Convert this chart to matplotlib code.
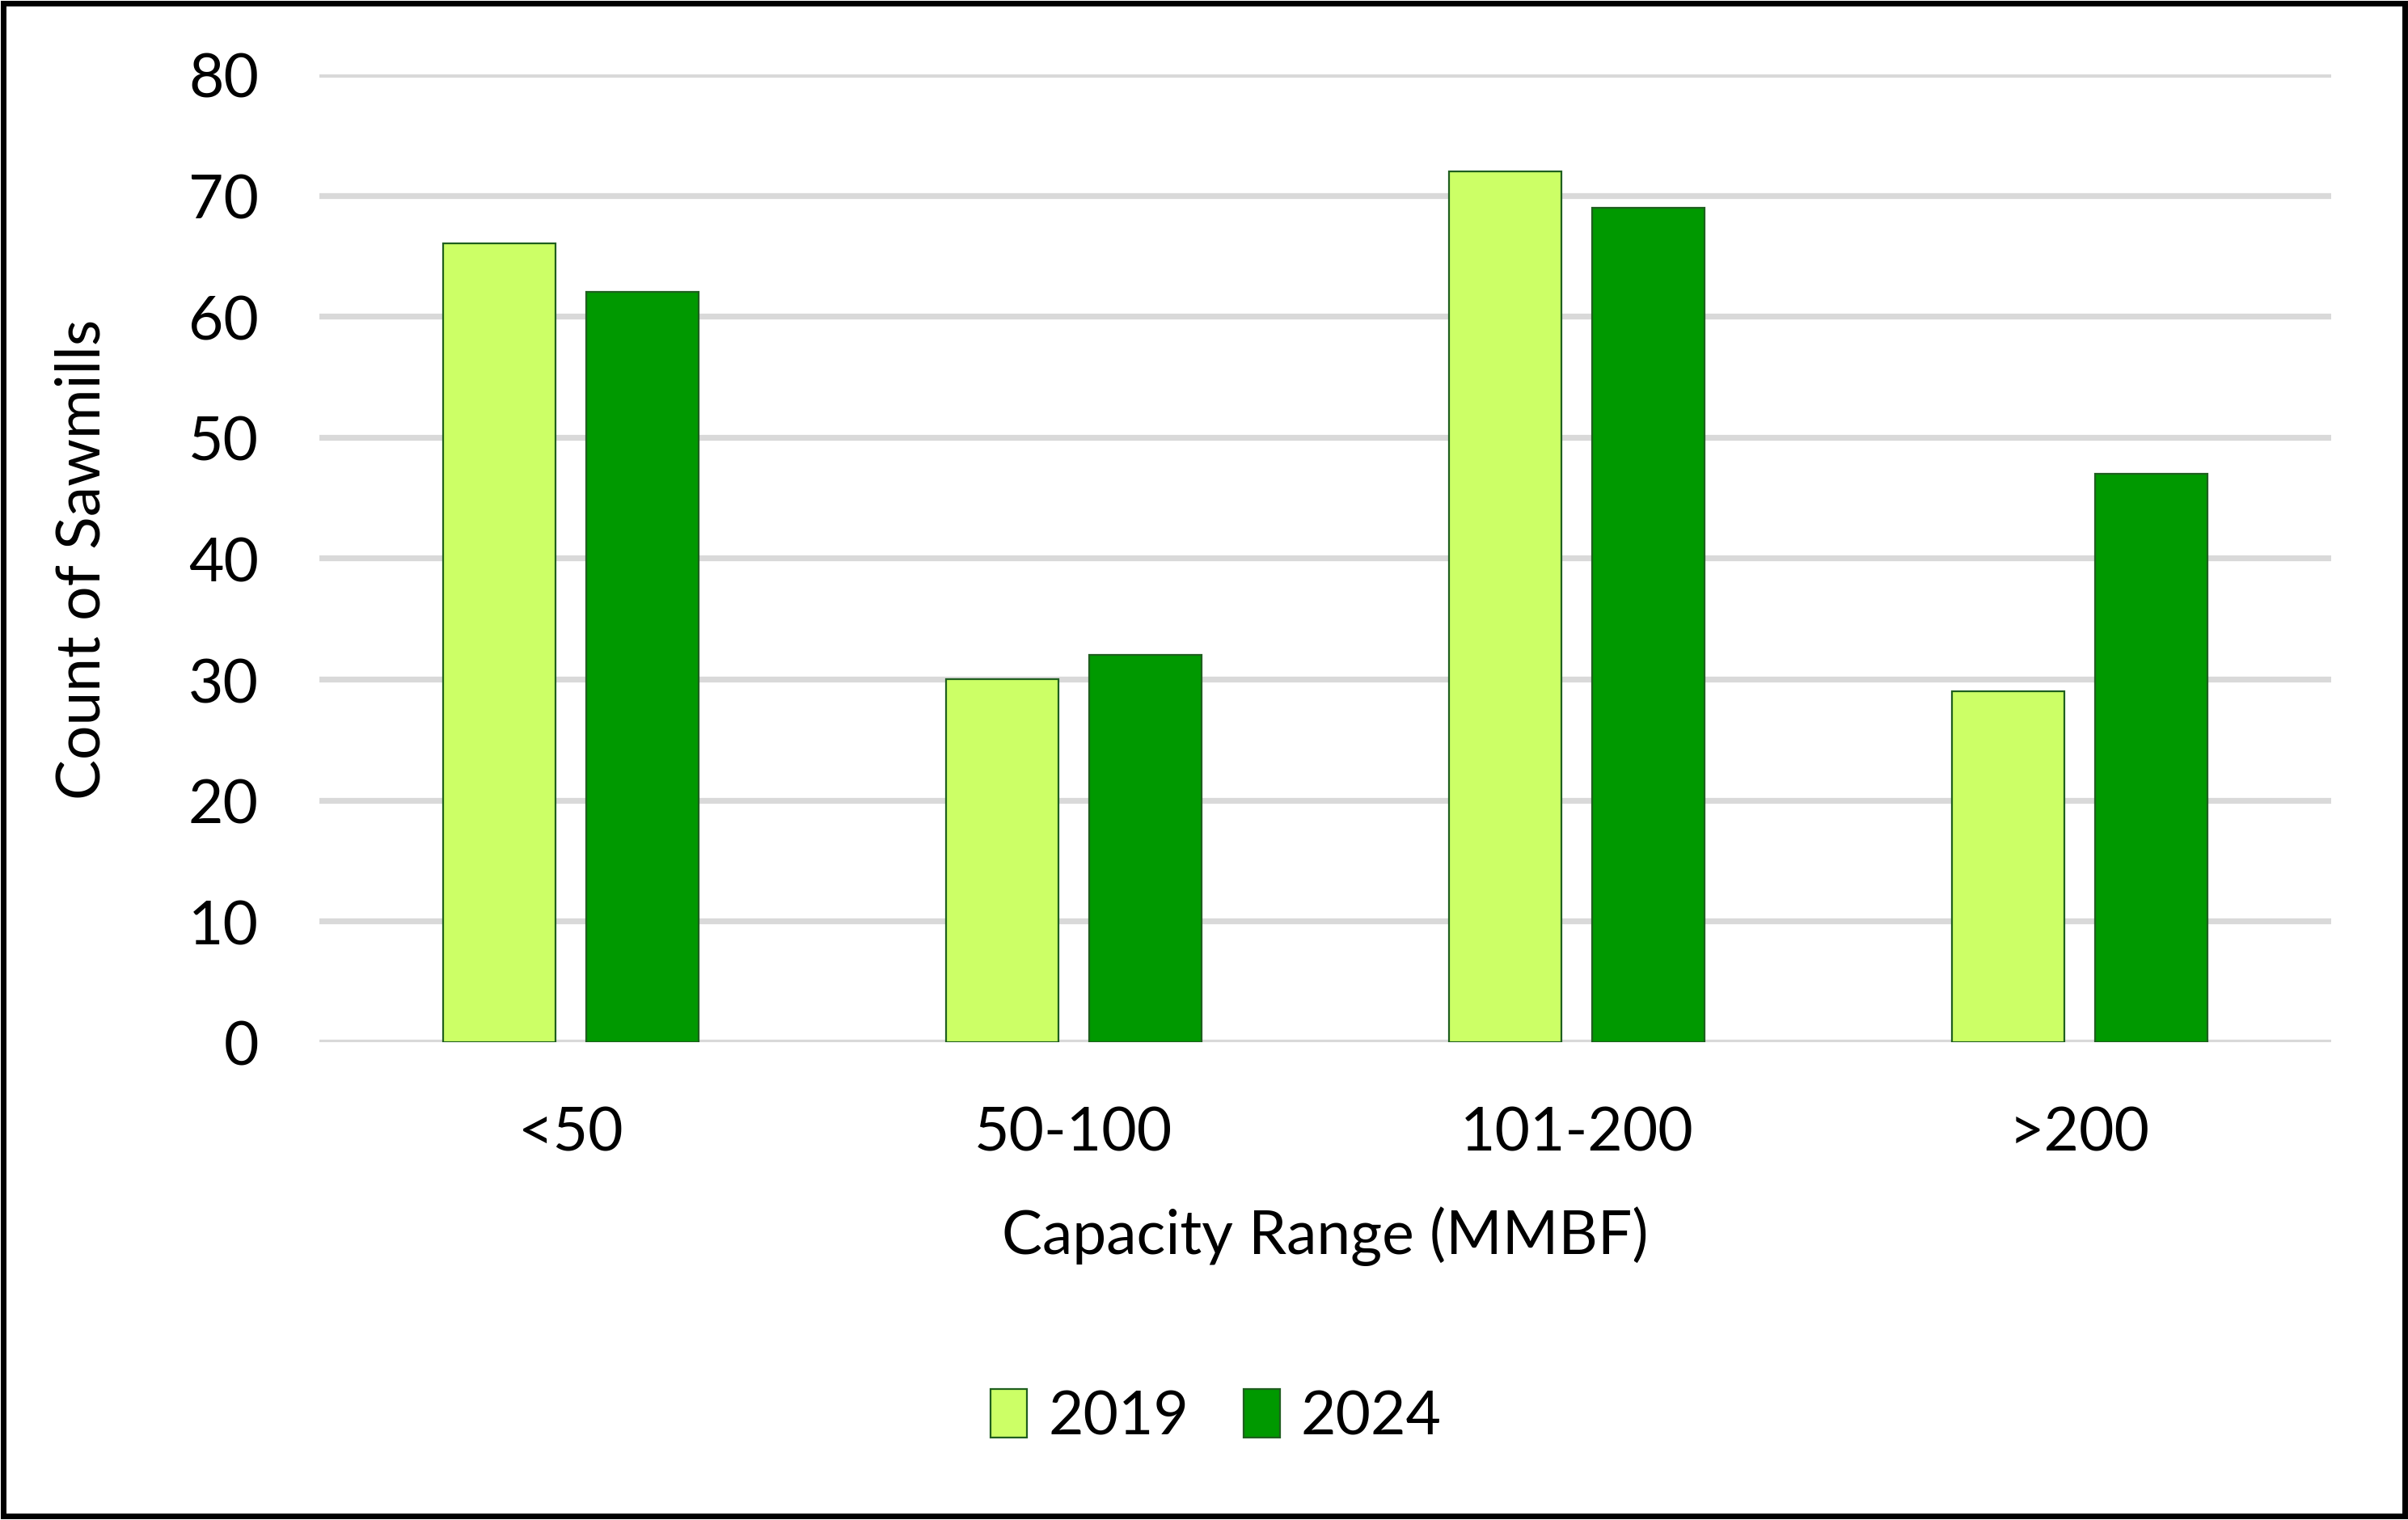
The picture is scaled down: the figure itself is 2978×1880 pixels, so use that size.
import numpy as np
import matplotlib.pyplot as plt
from matplotlib.patches import Rectangle

categories = ['<50', '50-100', '101-200', '>200']
years = ['2019', '2024']
count_2019 = [66, 30, 72, 29]
count_2024 = [62, 32, 69, 47]

colors = ['#ccff66', '#009900']
edge = '#1f5f1f'

plt.rcParams['font.family'] = ['Lato', 'DejaVu Sans']

fig = plt.figure(figsize=(14.89, 9.405), dpi=200)
ax = fig.add_axes([0.1326, 0.3142, 0.8355, 0.6364])

x = np.arange(len(categories))
w = 0.223
off = 0.142
ax.bar(x - off, count_2019, w, color=colors[0], edgecolor=edge, linewidth=0.8,
       label=years[0], zorder=3)
ax.bar(x + off, count_2024, w, color=colors[1], edgecolor=edge, linewidth=0.8,
       label=years[1], zorder=3)

ax.set_xlim(-0.5, 3.5)
ax.set_ylim(0, 80)
ax.set_yticks(np.arange(0, 81, 10))
ax.grid(axis='y', color='#d9d9d9', linewidth=2.6, zorder=0)
ax.set_axisbelow(True)
for s in ax.spines.values():
    s.set_visible(False)

ax.set_xticks(x)
ax.set_xticklabels(categories)
ax.tick_params(axis='both', length=0, labelsize=27)
ax.tick_params(axis='y', pad=27)
ax.tick_params(axis='x', pad=28)

ax.set_xlabel('Capacity Range (MMBF)', fontsize=27, labelpad=20)
ax.set_ylabel('Count of Sawmills', fontsize=27)
ax.yaxis.set_label_coords(-0.104, 0.5)

ax.legend(loc='center', bbox_to_anchor=(0.505, 0.068), bbox_transform=fig.transFigure,
          ncol=2, frameon=False, fontsize=27, handlelength=0.6, handleheight=0.85,
          handletextpad=0.35, columnspacing=0.9)

fig.patches.append(Rectangle((0.0015, 0.0025), 0.997, 0.995, transform=fig.transFigure,
                             fill=False, edgecolor='black', linewidth=2.5))

fig.savefig('out.png', dpi=200)
